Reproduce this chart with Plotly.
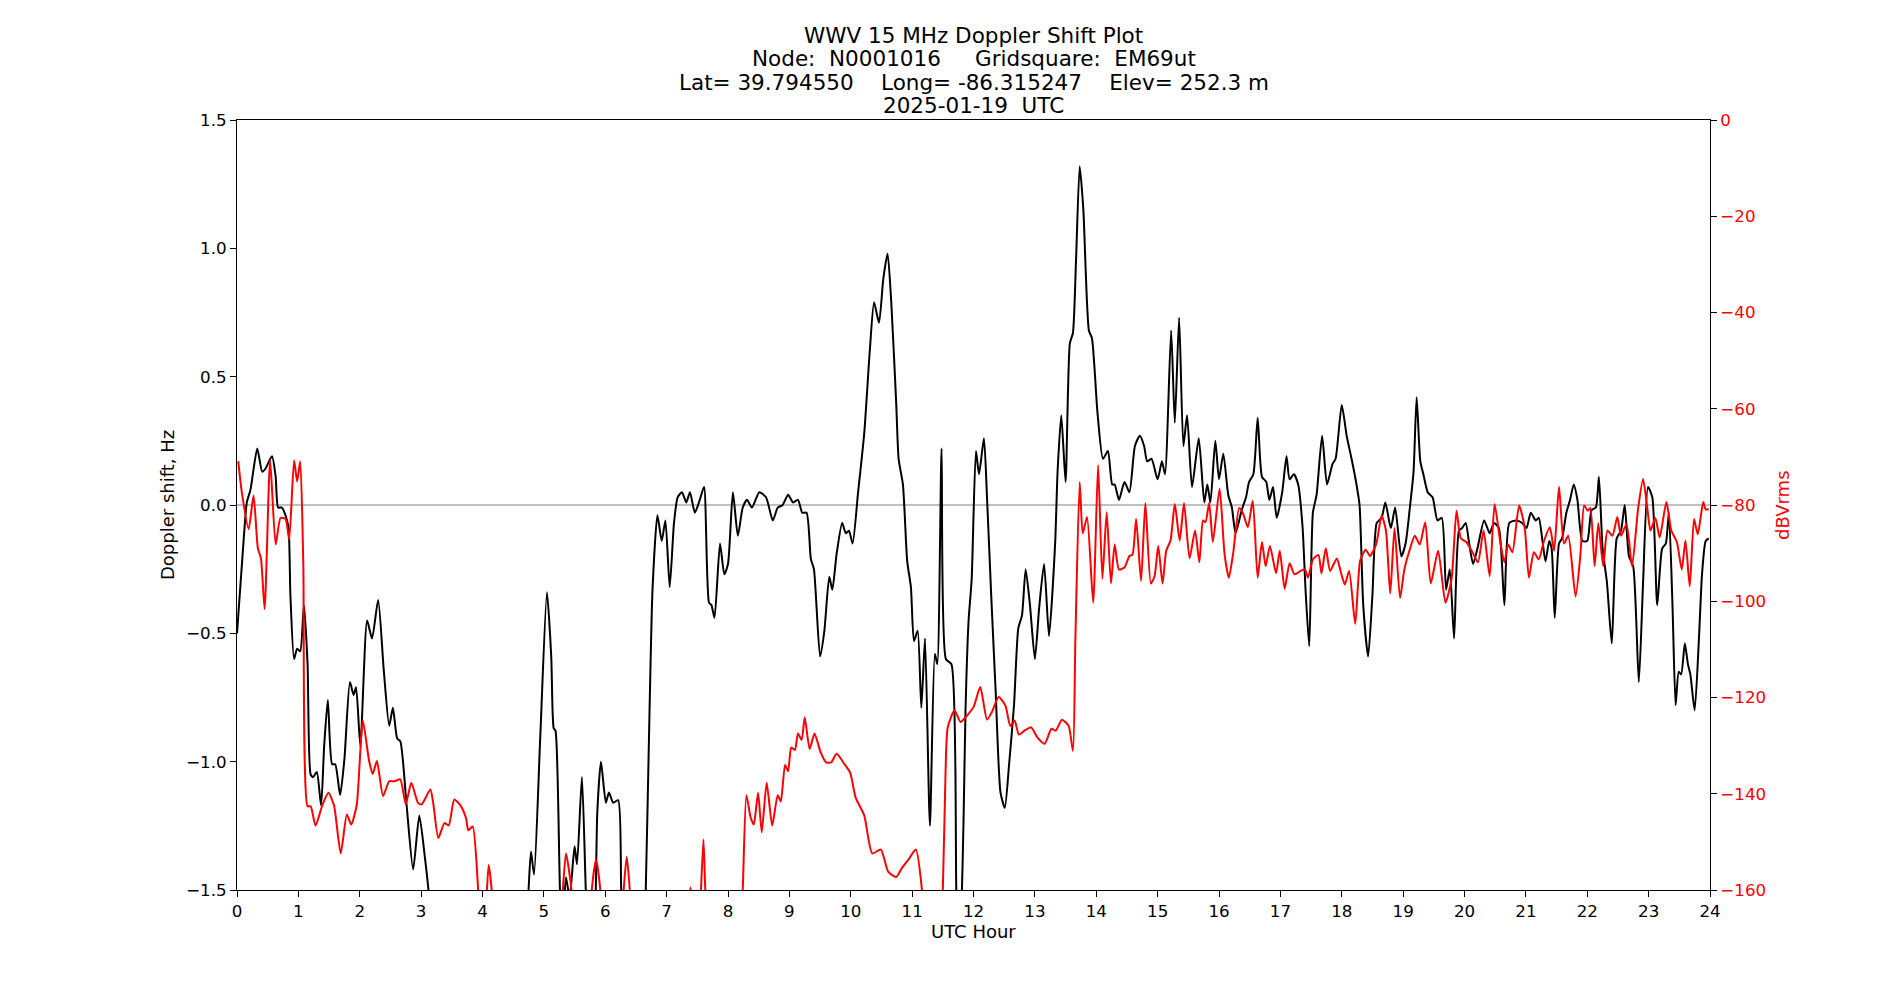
import plotly.graph_objects as go

# ---------------- data ----------------
title_lines = [
    "WWV 15 MHz Doppler Shift Plot",
    "Node:  N0001016     Gridsquare:  EM69ut",
    "Lat= 39.794550    Long= -86.315247    Elev= 252.3 m",
    "2025-01-19  UTC",
]
x_label = "UTC Hour"
y_label = "Doppler shift, Hz"
y2_label = "dBVrms"

x_ticks = list(range(0, 25))
y_ticks = [-1.5, -1.0, -0.5, 0.0, 0.5, 1.0, 1.5]
y2_ticks = [-160, -140, -120, -100, -80, -60, -40, -20, 0]

# Doppler shift (Hz), black curve
hours_doppler = [
    0.00, 0.11, 0.16, 0.22, 0.33, 0.41, 0.46, 0.57, 0.63, 0.67, 0.73, 0.79, 0.84, 0.87, 0.93, 0.98,
    1.03, 1.09, 1.15, 1.20, 1.24, 1.30, 1.37, 1.42, 1.48, 1.55, 1.60, 1.68, 1.75, 1.84, 1.90, 1.94,
    2.01, 2.12, 2.20, 2.30, 2.39, 2.48, 2.54, 2.61, 2.66, 2.76, 2.87, 2.97, 3.06, 3.14, 3.25,
    4.65, 4.75, 4.79, 4.84, 4.94, 5.05, 5.12, 5.16, 5.19, 5.27, 5.31, 5.36, 5.42, 5.50, 5.54, 5.62,
    5.69, 5.76, 5.84, 5.87, 5.93, 6.01, 6.06, 6.13, 6.21, 6.26, 6.33,
    6.60, 6.66, 6.72, 6.77, 6.85, 6.92, 6.98, 7.05, 7.12, 7.18, 7.25, 7.32, 7.38, 7.46, 7.54, 7.61,
    7.69, 7.73, 7.78, 7.87, 7.94, 8.00, 8.08, 8.16, 8.24, 8.31, 8.39, 8.51, 8.62, 8.73, 8.81, 8.89,
    8.98, 9.06, 9.14, 9.21, 9.28, 9.35, 9.40, 9.50, 9.57, 9.65, 9.70, 9.77, 9.86, 9.92, 9.97,
    10.03, 10.12, 10.22, 10.31, 10.38, 10.46, 10.53, 10.60, 10.66, 10.74, 10.78, 10.85, 10.92, 10.98,
    11.03, 11.09, 11.15, 11.21, 11.29, 11.37, 11.41, 11.48, 11.55, 11.64, 11.72, 11.76, 11.80, 11.84,
    11.87, 11.92, 11.97, 12.04, 12.09, 12.17, 12.22, 12.29, 12.36, 12.44, 12.51, 12.58, 12.66, 12.73,
    12.79, 12.85, 12.92, 13.00, 13.07, 13.15, 13.23, 13.33, 13.37, 13.43, 13.50, 13.57, 13.62, 13.67,
    13.73, 13.79, 13.88, 13.93, 14.02, 14.11, 14.19, 14.26, 14.30, 14.37, 14.46, 14.54, 14.63, 14.71,
    14.78, 14.83, 14.90, 15.00, 15.07, 15.12, 15.22, 15.28, 15.35, 15.42, 15.48, 15.56, 15.67, 15.76,
    15.81, 15.86, 15.94, 16.00, 16.07, 16.15, 16.21, 16.27, 16.37, 16.44, 16.49, 16.56, 16.63, 16.70,
    16.77, 16.82, 16.88, 16.94, 17.03, 17.10, 17.15, 17.22, 17.29, 17.36, 17.41, 17.47, 17.53, 17.59,
    17.68, 17.76, 17.85, 17.90, 18.00, 18.08, 18.16, 18.24, 18.29, 18.35, 18.43, 18.50, 18.57, 18.65,
    18.71, 18.80, 18.87, 18.97, 19.04, 19.11, 19.17, 19.22, 19.28, 19.33, 19.40, 19.48, 19.56, 19.63,
    19.70, 19.76, 19.83, 19.91, 19.96, 20.02, 20.07, 20.14, 20.21, 20.32, 20.41, 20.48, 20.56, 20.65,
    20.73, 20.84, 20.94, 21.01, 21.08, 21.16, 21.21, 21.27, 21.32, 21.38, 21.42, 21.47, 21.54, 21.59,
    21.66, 21.72, 21.78, 21.84, 21.92, 22.00, 22.07, 22.14, 22.19, 22.25, 22.32, 22.40, 22.48, 22.55,
    22.61, 22.68, 22.75, 22.84, 22.91, 22.99, 23.06, 23.14, 23.22, 23.28, 23.33, 23.39, 23.44, 23.49,
    23.53, 23.59, 23.64, 23.68, 23.75, 23.82, 23.87, 23.93, 23.98,
]
doppler_hz = [
    -0.50, -0.13, 0.01, 0.06, 0.22, 0.13, 0.14, 0.19, 0.11, -0.01, -0.01, -0.04, -0.09, -0.35, -0.60, -0.56,
    -0.57, -0.39, -0.62, -1.05, -1.06, -1.04, -1.17, -0.94, -0.76, -1.01, -1.01, -1.13, -0.99, -0.69, -0.74, -0.71,
    -0.94, -0.45, -0.52, -0.37, -0.64, -0.86, -0.79, -0.91, -0.92, -1.16, -1.42, -1.21, -1.37, -1.55, -1.90,
    -1.90, -1.50, -1.35, -1.44, -0.91, -0.34, -0.59, -0.87, -0.88, -1.55, -1.62, -1.45, -1.53, -1.33, -1.40, -1.06,
    -1.55, -1.85, -1.55, -1.20, -1.00, -1.16, -1.12, -1.16, -1.15, -1.50, -1.90,
    -1.90, -1.50, -0.82, -0.33, -0.04, -0.14, -0.06, -0.32, -0.07, 0.03, 0.05, 0.01, 0.05, -0.03, 0.02, 0.07,
    -0.38, -0.39, -0.44, -0.15, -0.27, -0.23, 0.05, -0.12, -0.01, 0.02, -0.01, 0.05, 0.03, -0.06, -0.01, 0.00,
    0.04, 0.01, 0.02, -0.03, -0.03, -0.21, -0.25, -0.59, -0.49, -0.28, -0.33, -0.19, -0.07, -0.11, -0.10,
    -0.15, 0.05, 0.28, 0.60, 0.79, 0.71, 0.88, 0.98, 0.79, 0.40, 0.18, 0.08, -0.22, -0.32,
    -0.53, -0.49, -0.79, -0.52, -1.25, -0.58, -0.62, 0.22, -0.60, -0.62, -1.50, -1.75, -1.60, -1.20,
    -0.80, -0.45, -0.29, 0.21, 0.12, 0.26, 0.03, -0.36, -0.72, -1.12, -1.18, -1.01, -0.78, -0.48,
    -0.43, -0.25, -0.39, -0.60, -0.40, -0.23, -0.51, -0.15, 0.13, 0.35, 0.09, 0.63, 0.67, 0.95,
    1.32, 1.15, 0.68, 0.65, 0.36, 0.18, 0.21, 0.08, 0.08, 0.02, 0.09, 0.05, 0.23, 0.27,
    0.23, 0.17, 0.18, 0.10, 0.17, 0.12, 0.68, 0.32, 0.73, 0.23, 0.35, 0.07, 0.26, 0.01,
    0.08, 0.01, 0.25, 0.10, 0.20, 0.04, -0.01, -0.11, -0.02, 0.03, 0.09, 0.12, 0.34, 0.11,
    0.09, 0.02, 0.07, -0.05, 0.05, 0.19, 0.10, 0.12, 0.08, -0.08, -0.33, -0.55, -0.03, 0.04,
    0.27, 0.08, 0.16, 0.18, 0.39, 0.27, 0.18, 0.08, 0.00, -0.39, -0.59, -0.35, -0.07, -0.05,
    0.01, -0.09, -0.01, -0.20, -0.15, -0.01, 0.13, 0.42, 0.17, 0.12, 0.05, 0.03, -0.06, -0.05,
    -0.33, -0.25, -0.52, -0.10, -0.09, -0.07, -0.14, -0.23, -0.17, -0.06, -0.11, -0.07, -0.09, -0.39,
    -0.07, -0.06, -0.07, -0.09, -0.03, -0.06, -0.05, -0.14, -0.22, -0.14, -0.17, -0.44, -0.15, -0.13,
    -0.03, 0.02, 0.08, 0.02, -0.14, -0.14, -0.02, -0.01, 0.11, -0.17, -0.30, -0.54, -0.13, -0.10,
    0.00, -0.20, -0.24, -0.69, -0.30, 0.07, 0.03, -0.39, -0.17, -0.15, -0.03, -0.40, -0.78, -0.65,
    -0.66, -0.54, -0.62, -0.66, -0.80, -0.52, -0.27, -0.14, -0.13,
]

# Received power (dBVrms), red curve
hours_power = [
    0.02, 0.08, 0.19, 0.27, 0.34, 0.39, 0.45, 0.54, 0.63, 0.71, 0.79, 0.85, 0.93, 0.98, 1.03, 1.08,
    1.15, 1.20, 1.28, 1.39, 1.49, 1.58, 1.69, 1.79, 1.86, 1.95, 2.05, 2.15, 2.21, 2.28, 2.38, 2.48,
    2.57, 2.66, 2.75, 2.84, 2.95, 3.01, 3.15, 3.20, 3.28, 3.38, 3.45, 3.54, 3.64, 3.73, 3.77, 3.84,
    3.93, 3.99, 4.05, 4.10, 4.15, 4.21, 5.26, 5.31, 5.36, 5.45, 5.51, 5.72, 5.78, 5.85, 5.92, 5.98,
    6.24, 6.30, 6.35, 6.40, 6.46, 7.32, 7.39, 7.46, 7.52, 7.56, 7.60, 7.63, 7.69, 8.18, 8.24, 8.30,
    8.37, 8.42, 8.49, 8.55, 8.63, 8.72, 8.81, 8.86, 8.93, 8.98, 9.03, 9.09, 9.14, 9.20, 9.25, 9.33,
    9.41, 9.51, 9.60, 9.68, 9.77, 9.88, 9.99, 10.08, 10.22, 10.35, 10.49, 10.61, 10.74, 10.83, 10.94,
    11.06, 11.16, 11.22, 11.44, 11.50, 11.54, 11.58, 11.69, 11.79, 11.87, 12.00, 12.11, 12.22, 12.30,
    12.41, 12.52, 12.60, 12.67, 12.74, 12.83, 12.94, 13.04, 13.16, 13.27, 13.34, 13.44, 13.55, 13.62,
    13.66, 13.73, 13.78, 13.85, 13.95, 14.03, 14.10, 14.17, 14.24, 14.30, 14.37, 14.46, 14.54, 14.59,
    14.65, 14.73, 14.80, 14.89, 14.95, 15.01, 15.08, 15.14, 15.21, 15.28, 15.36, 15.43, 15.52, 15.61,
    15.68, 15.74, 15.78, 15.84, 15.90, 16.01, 16.09, 16.16, 16.23, 16.33, 16.39, 16.47, 16.55, 16.63,
    16.70, 16.76, 16.83, 16.93, 16.99, 17.07, 17.15, 17.23, 17.33, 17.40, 17.45, 17.53, 17.62, 17.67,
    17.74, 17.81, 17.92, 17.98, 18.05, 18.12, 18.22, 18.30, 18.39, 18.46, 18.56, 18.65, 18.72, 18.79,
    18.86, 18.95, 19.02, 19.11, 19.19, 19.27, 19.36, 19.45, 19.57, 19.69, 19.79, 19.87, 19.94, 20.03,
    20.13, 20.22, 20.31, 20.41, 20.49, 20.58, 20.65, 20.71, 20.78, 20.89, 20.98, 21.05, 21.13, 21.21,
    21.29, 21.39, 21.46, 21.54, 21.62, 21.69, 21.81, 21.89, 21.95, 22.01, 22.05, 22.12, 22.18, 22.26,
    22.33, 22.41, 22.49, 22.55, 22.64, 22.73, 22.83, 22.91, 22.98, 23.03, 23.11, 23.18, 23.29, 23.37,
    23.46, 23.54, 23.60, 23.67, 23.74, 23.80, 23.89, 23.93, 23.98,
]
power_dbv = [
    -70.9, -77.5, -85.0, -78.0, -89.0, -91.1, -101.6, -70.7, -88.2, -82.7, -82.9, -87.1, -70.7, -75.1, -70.9, -92.1,
    -142.6, -142.6, -146.6, -142.4, -139.8, -142.4, -152.4, -144.3, -146.4, -142.4, -124.8, -133.0, -135.9, -133.2, -140.5, -137.4,
    -137.4, -137.0, -142.2, -137.7, -141.9, -142.2, -139.1, -142.2, -149.2, -146.1, -146.6, -141.2, -142.4, -145.0, -147.6, -146.8,
    -160.0, -170.0, -165.0, -154.8, -160.0, -175.0, -175.0, -160.0, -152.4, -160.0, -175.0, -175.0, -160.0, -153.7, -160.0, -175.0,
    -175.0, -160.0, -153.1, -160.0, -175.0, -168.0, -159.5, -168.0, -175.0, -160.0, -149.5, -160.0, -175.0, -175.0, -160.0, -140.3,
    -145.0, -146.4, -139.8, -148.0, -137.7, -146.6, -140.3, -141.6, -134.0, -135.3, -130.4, -130.9, -127.5, -128.8, -124.1, -130.7,
    -127.5, -131.4, -133.5, -133.5, -131.7, -133.5, -135.6, -140.8, -144.5, -152.4, -151.6, -156.2, -157.3, -155.5, -153.7,
    -151.6, -160.0, -175.0, -175.0, -160.0, -138.0, -126.2, -122.7, -125.1, -124.1, -122.0, -117.8, -124.6, -123.0,
    -119.9, -121.7, -125.9, -124.8, -127.7, -126.9, -126.2, -128.3, -129.6, -126.5, -126.9, -124.6, -125.9, -131.1,
    -107.9, -75.2, -85.9, -82.5, -100.3, -71.7, -95.3, -81.5, -96.3, -88.2, -93.4, -93.0, -90.6, -90.3,
    -82.9, -95.8, -79.6, -96.3, -94.8, -88.5, -96.3, -89.5, -87.4, -79.8, -87.4, -79.6, -91.1, -85.3,
    -91.9, -83.2, -83.6, -79.6, -87.7, -76.6, -90.1, -95.1, -90.1, -80.6, -81.7, -84.6, -79.1, -95.1,
    -87.7, -92.7, -88.5, -94.2, -89.5, -97.4, -92.1, -94.4, -93.7, -93.4, -95.1, -91.3, -90.4, -94.2,
    -89.0, -93.7, -91.1, -93.7, -96.5, -93.7, -104.7, -91.6, -89.3, -90.6, -88.2, -82.2, -85.3, -98.4,
    -84.8, -99.3, -93.4, -89.2, -86.4, -88.2, -83.6, -96.3, -89.5, -100.3, -95.3, -81.2, -86.9, -87.7,
    -89.8, -91.9, -85.3, -94.8, -79.8, -87.4, -91.9, -88.2, -89.8, -80.1, -84.6, -95.1, -89.8, -91.3,
    -87.7, -84.6, -89.5, -76.2, -88.0, -86.4, -99.0, -90.1, -80.1, -81.2, -80.6, -92.7, -83.8, -92.7,
    -85.3, -86.4, -82.5, -86.4, -84.0, -92.7, -80.6, -74.6, -80.8, -85.3, -82.7, -86.7, -79.4, -85.3,
    -87.7, -93.4, -87.4, -96.9, -82.9, -86.1, -79.4, -80.9, -80.9,
]

# ---------------- figure ----------------
FONT = "DejaVu Sans"
TICK_SIZE = 16.7
LABEL_SIZE = 18
TITLE_SIZE = 21.5

fig = go.Figure()

fig.add_trace(go.Scatter(
    x=hours_doppler, y=doppler_hz, mode="lines",
    line=dict(color="black", width=2, shape="spline", smoothing=0.6),
    yaxis="y", showlegend=False, hoverinfo="skip",
))
fig.add_trace(go.Scatter(
    x=hours_power, y=power_dbv, mode="lines",
    line=dict(color="red", width=2, shape="spline", smoothing=0.6),
    yaxis="y2", showlegend=False, hoverinfo="skip",
))

# zero reference line
fig.add_shape(type="line", xref="paper", yref="y", x0=0, x1=1, y0=0, y1=0,
              line=dict(color="#808080", width=1), layer="below")

axis_common = dict(
    showgrid=False, zeroline=False, showline=True, linecolor="black", linewidth=1,
    ticks="outside", ticklen=6, tickwidth=1, tickcolor="black",
)

fig.update_layout(
    width=1900, height=1000,
    margin=dict(l=237, r=190, t=120, b=110),
    paper_bgcolor="white", plot_bgcolor="white",
    font=dict(family=FONT, size=TICK_SIZE, color="black"),
    xaxis=dict(range=[0, 24], tickvals=x_ticks, ticktext=[str(t) for t in x_ticks],
               mirror=True, **axis_common),
    yaxis=dict(range=[-1.5, 1.5], tickvals=y_ticks, tickformat=".1f", **axis_common),
    yaxis2=dict(range=[-160, 0], tickvals=y2_ticks, overlaying="y", side="right",
                tickfont=dict(color="red"), **axis_common),
)

# title lines
title_y_px = [36, 59, 82, 105]
for txt, ypx in zip(title_lines, title_y_px):
    fig.add_annotation(text=txt, xref="paper", yref="paper", x=0.5,
                       y=(890 - ypx) / 770, xanchor="center", yanchor="middle",
                       showarrow=False, font=dict(family=FONT, size=TITLE_SIZE, color="black"))

# axis labels
fig.add_annotation(text=x_label, xref="paper", yref="paper", x=0.5, y=(890 - 931) / 770,
                   xanchor="center", yanchor="middle", showarrow=False,
                   font=dict(family=FONT, size=LABEL_SIZE, color="black"))
fig.add_annotation(text=y_label, xref="paper", yref="paper", x=(167 - 237) / 1473, y=0.5,
                   xanchor="center", yanchor="middle", textangle=-90, showarrow=False,
                   font=dict(family=FONT, size=LABEL_SIZE, color="black"))
fig.add_annotation(text=y2_label, xref="paper", yref="paper", x=(1782 - 237) / 1473, y=0.5,
                   xanchor="center", yanchor="middle", textangle=-90, showarrow=False,
                   font=dict(family=FONT, size=LABEL_SIZE, color="red"))

fig.write_html("out.html")
